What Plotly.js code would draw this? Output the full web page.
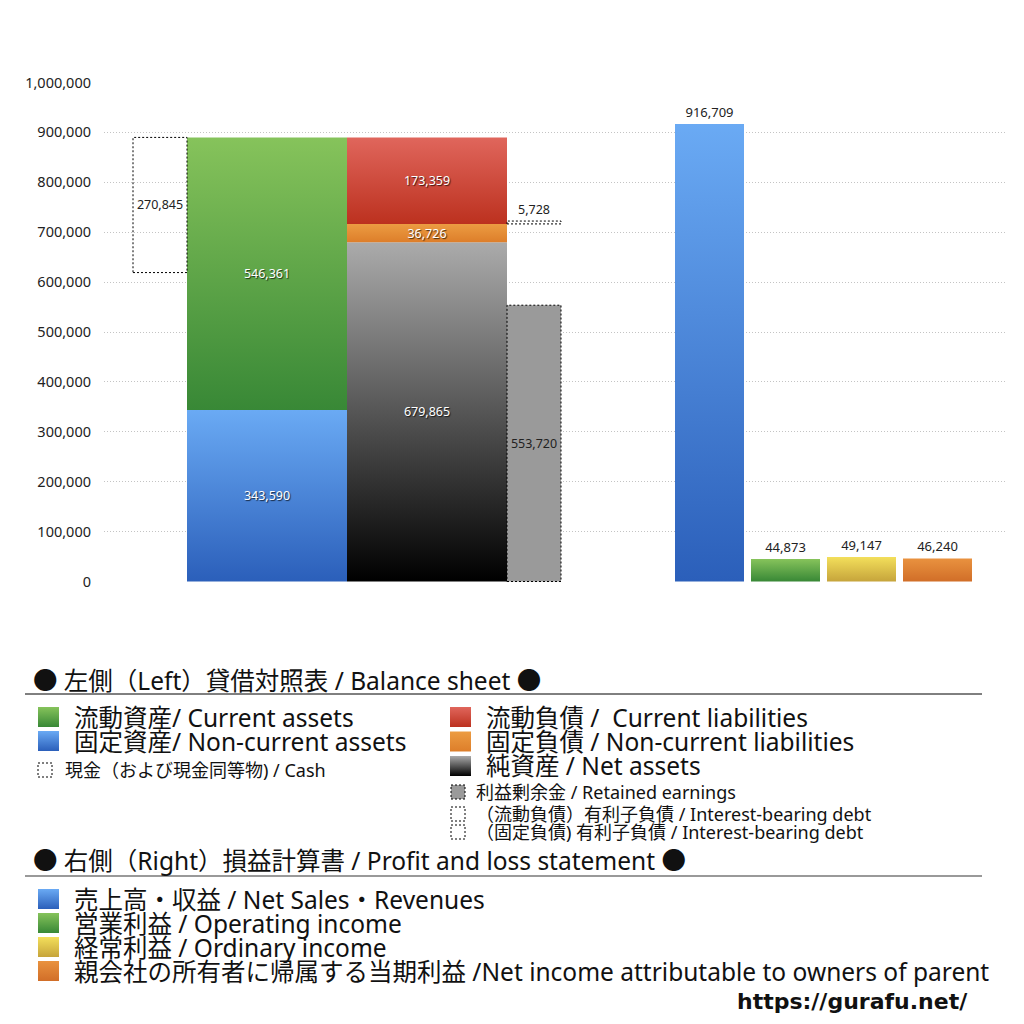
<!DOCTYPE html>
<html>
<head>
<meta charset="utf-8">
<script src="https://cdn.plot.ly/plotly-3.0.1.min.js"></script>
<style>
  body { margin: 0; background: #fff; }
  #chart { width: 1024px; height: 1024px; }
</style>
</head>
<body>
<div id="chart"></div>
<script>
// ---- data: left (balance sheet) ----
var assetNames = ["固定資産", "流動資産"];
var assetValues = [343590, 546361];
var liabNames = ["純資産", "固定負債", "流動負債"];
var liabValues = [679865, 36726, 173359];
var cashValue = 270845;
var retainedValue = 553720;
var debtCurrentValue = 5728;

// ---- data: right (profit and loss) ----
var plNames = ["売上高・収益", "営業利益", "経常利益", "親会社の所有者に帰属する当期利益"];
var plValues = [916709, 44873, 49147, 46240];

var yTicks = [0, 100000, 200000, 300000, 400000, 500000, 600000, 700000, 800000, 900000, 1000000];

// ---- layout helpers (x axis is laid out in pixel-like units) ----
var PLOT_L = 104, PLOT_R = 1007, PLOT_T = 82, PLOT_B = 582;
var Y_PAD = 1000; // tiny pad so the 0 and 1,000,000 gridlines are drawn
var slotCash = { x: 160, w: 54 };
var slotAssets = { x: 267, w: 160 };
var slotLiab = { x: 427, w: 160 };
var slotRetained = { x: 534, w: 54 };
var slotPL = [{ x: 709.5, w: 69 }, { x: 785.5, w: 69 }, { x: 861.5, w: 69 }, { x: 937.5, w: 69 }];

var gradients = {
    blue: ["#6aaaf4", "#2b5fba"],
    green: ["#86c35b", "#388836"],
    red: ["#e0665c", "#bc311f"],
    orange: ["#ec9c42", "#dd7e2a"],
    black: ["#ababab", "#000000"],
    yellow: ["#f3df5b", "#c6a43b"],
    orange2: ["#e9923f", "#d16e28"],
    gray: ["#9a9a9a", "#9a9a9a"]
};

var FONT = "Noto Sans, Noto Sans CJK JP, sans-serif";
var BIG = 24.5, SMALL = 18;
var WHITE_TEXT = { family: FONT, size: 12.5, color: "#ffffff", shadow: "1px 1px 1px rgba(0,0,0,0.7)" };
var DARK_TEXT = { family: FONT, size: 12.5, color: "#222222" };
var TOP_TEXT = { family: FONT, size: 13, color: "#222222" };

function fmt(v) { return v.toLocaleString("en-US"); }

var traces = [];
var traceGrad = [];

function addBar(slot, base, value, grad, font, pos) {
    traces.push({
        type: "bar",
        x: [slot.x],
        y: [value],
        base: [base],
        width: [slot.w],
        text: [fmt(value)],
        textposition: pos,
        insidetextanchor: "middle",
        textangle: 0,
        constraintext: "none",
        cliponaxis: false,
        textfont: font,
        marker: { color: grad ? gradients[grad][1] : "rgba(0,0,0,0)", line: { width: 0 } },
        hoverinfo: "skip",
        showlegend: false
    });
    traceGrad.push(grad);
}

// assets column
var totalAssets = assetValues[0] + assetValues[1];
addBar(slotAssets, 0, assetValues[0], "blue", WHITE_TEXT, "inside");
addBar(slotAssets, assetValues[0], assetValues[1], "green", WHITE_TEXT, "inside");
// cash (dotted box)
addBar(slotCash, totalAssets - cashValue, cashValue, null, DARK_TEXT, "inside");
// liabilities + net assets column
var liabGrads = ["black", "orange", "red"];
var acc = 0;
for (var i = 0; i < liabValues.length; i++) {
    addBar(slotLiab, acc, liabValues[i], liabGrads[i], WHITE_TEXT, "inside");
    acc += liabValues[i];
}
// retained earnings
addBar(slotRetained, 0, retainedValue, "gray", DARK_TEXT, "inside");
// interest-bearing debt (current) on top of non-current liabilities
var debtBase = liabValues[0] + liabValues[1];
addBar(slotRetained, debtBase, debtCurrentValue, null, DARK_TEXT, "outside");
// P/L bars
var plGrads = ["blue", "green", "yellow", "orange2"];
for (var j = 0; j < plValues.length; j++) {
    addBar(slotPL[j], 0, plValues[j], plGrads[j], TOP_TEXT, "outside");
}

// ---- dotted outlines (data coords) ----
function dottedBox(slot, y0, y1, fill) {
    return {
        type: "rect", xref: "x", yref: "y",
        x0: slot.x - slot.w / 2, x1: slot.x + slot.w / 2, y0: y0, y1: y1,
        line: { color: "#000", width: 1, dash: "2px,2px" },
        fillcolor: fill || "rgba(0,0,0,0)", layer: "above"
    };
}
var shapes = [
    dottedBox(slotCash, totalAssets - cashValue, totalAssets),
    dottedBox(slotRetained, 0, retainedValue),
    dottedBox(slotRetained, debtBase, debtBase + debtCurrentValue)
];

// ---- legend (paper coords from pixel positions) ----
function px(x) { return (x - PLOT_L) / (PLOT_R - PLOT_L); }
function py(y) { return (PLOT_B - y) / (PLOT_B - PLOT_T); }

var annotations = [];
var shapeGrad = {};
function label(text, x, y, size, extra) {
    var a = {
        xref: "paper", yref: "paper", x: px(x), y: py(y),
        xanchor: "left", yanchor: "middle", showarrow: false,
        text: text, font: { family: FONT, size: size, color: "#111" }
    };
    if (extra) for (var k in extra) a[k] = extra[k];
    annotations.push(a);
}
function swatch(x0, x1, yc, h, grad, dotted) {
    var s = {
        type: "rect", xref: "paper", yref: "paper",
        x0: px(x0), x1: px(x1), y0: py(yc + h / 2), y1: py(yc - h / 2),
        line: dotted ? { color: "#000", width: 1, dash: "2px,2px" } : { width: 0 },
        fillcolor: grad ? gradients[grad][1] : "rgba(0,0,0,0)", layer: "above"
    };
    if (grad) shapeGrad[shapes.length] = grad;
    shapes.push(s);
}
function rule(y, color, w) {
    shapes.push({
        type: "line", xref: "paper", yref: "paper",
        x0: px(25), x1: px(982), y0: py(y), y1: py(y),
        line: { color: color, width: w }
    });
}

label("● 左側（Left）貸借対照表 / Balance sheet ●", 31, 680, BIG);
rule(694, "#000", 1);
var bsLeft = [["流動資産/ Current assets", "green"], ["固定資産/ Non-current assets", "blue"]];
bsLeft.forEach(function (d, k) {
    swatch(38, 59, 717 + 24 * k, 20, d[1]);
    label(d[0], 72, 717 + 24 * k, BIG);
});
swatch(38, 52, 770, 14, null, true);
label("現金（および現金同等物) / Cash", 63, 770, SMALL);

var bsRight = [["流動負債 /  Current liabilities", "red"], ["固定負債 / Non-current liabilities", "orange"], ["純資産 / Net assets", "black"]];
bsRight.forEach(function (d, k) {
    swatch(450, 471, 717 + 24.5 * k, 20, d[1]);
    label(d[0], 484, 717 + 24.5 * k, BIG);
});
swatch(451, 465, 792, 14, "gray", true);
label("利益剰余金 / Retained earnings", 474, 792, SMALL);
swatch(451, 465, 814, 14, null, true);
label("（流動負債）有利子負債 / Interest-bearing debt", 474, 814, SMALL);
swatch(451, 465, 832, 14, null, true);
label("（固定負債) 有利子負債 / Interest-bearing debt", 474, 832, SMALL);

label("● 右側（Right）損益計算書 / Profit and loss statement ●", 31, 860, BIG);
rule(876, "#777", 1.5);
var plLegend = [
    ["売上高・収益 / Net Sales・Revenues", "blue"],
    ["営業利益 / Operating income", "green"],
    ["経常利益 / Ordinary income", "yellow"],
    ["親会社の所有者に帰属する当期利益 /Net income attributable to owners of parent", "orange2"]
];
plLegend.forEach(function (d, k) {
    swatch(38, 59, 899 + 24 * k, 20, d[1]);
    label(d[0], 72, 899 + 24 * k, BIG);
});
label("<b>https://gurafu.net/</b>", 970, 1002, 22,
    { xanchor: "right", font: { family: "DejaVu Sans, sans-serif", size: 22, color: "#111" } });

var layout = {
    width: 1024,
    height: 1024,
    margin: { l: PLOT_L, r: 1024 - PLOT_R, t: PLOT_T, b: 1024 - PLOT_B },
    paper_bgcolor: "#fff",
    plot_bgcolor: "#fff",
    barmode: "overlay",
    showlegend: false,
    xaxis: { range: [PLOT_L, PLOT_R], visible: false, fixedrange: true },
    yaxis: {
        range: [-Y_PAD, 1000000 + Y_PAD],
        tickvals: yTicks,
        tickformat: ",d",
        showgrid: true,
        gridcolor: "#c4c4c4",
        griddash: "1px,2px",
        gridwidth: 1,
        zeroline: false,
        showline: false,
        ticks: "",
        ticklabelstandoff: 12,
        tickfont: { family: FONT, size: 14.5, color: "#222" }
    },
    shapes: shapes,
    annotations: annotations
};

function applyGradients(gd) {
    var svg = gd.querySelector(".main-svg");
    var defs = svg.querySelector("defs");
    var ns = "http://www.w3.org/2000/svg";
    Object.keys(gradients).forEach(function (key) {
        var lg = document.createElementNS(ns, "linearGradient");
        lg.setAttribute("id", "grad-" + key);
        lg.setAttribute("x1", "0"); lg.setAttribute("y1", "0");
        lg.setAttribute("x2", "0"); lg.setAttribute("y2", "1");
        [[0, gradients[key][0]], [1, gradients[key][1]]].forEach(function (st) {
            var s = document.createElementNS(ns, "stop");
            s.setAttribute("offset", st[0]);
            s.setAttribute("stop-color", st[1]);
            lg.appendChild(s);
        });
        defs.appendChild(lg);
    });
    var barTraces = gd.querySelectorAll(".barlayer .trace");
    barTraces.forEach(function (t, idx) {
        var g = traceGrad[idx];
        if (!g) return;
        t.querySelectorAll(".point path").forEach(function (p) {
            p.style.fill = "url(#grad-" + g + ")";
        });
    });
    Object.keys(shapeGrad).forEach(function (si) {
        gd.querySelectorAll('.shapelayer path[data-index="' + si + '"]').forEach(function (p) {
            p.style.fill = "url(#grad-" + shapeGrad[si] + ")";
        });
    });
}

Plotly.newPlot("chart", traces, layout, { staticPlot: true, displayModeBar: false })
    .then(applyGradients);
</script>
</body>
</html>
